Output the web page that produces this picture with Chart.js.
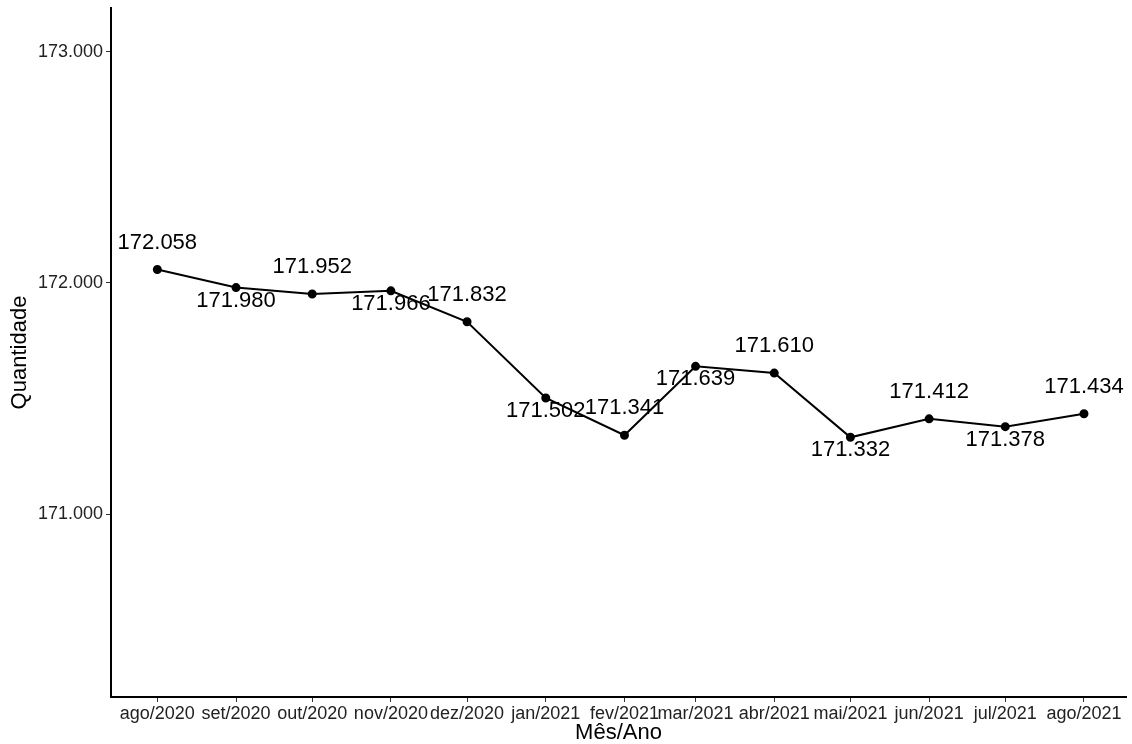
<!DOCTYPE html>
<html>
<head>
<meta charset="utf-8">
<script src="https://cdn.jsdelivr.net/npm/chart.js@4"></script>
<style>
  html, body { margin: 0; padding: 0; background: #fff; }
  #wrap { width: 1132px; height: 744px; }
</style>
</head>
<body>
<div id="wrap"><canvas id="chart" width="1132" height="744"></canvas></div>
<script>
// month labels and the first day of each month
const months = ['ago/2020', 'set/2020', 'out/2020', 'nov/2020', 'dez/2020', 'jan/2021', 'fev/2021',
  'mar/2021', 'abr/2021', 'mai/2021', 'jun/2021', 'jul/2021', 'ago/2021'];
const dates = ['2020-08-01', '2020-09-01', '2020-10-01', '2020-11-01', '2020-12-01', '2021-01-01', '2021-02-01',
  '2021-03-01', '2021-04-01', '2021-05-01', '2021-06-01', '2021-07-01', '2021-08-01'];
const quantidade = [172.058, 171.980, 171.952, 171.966, 171.832, 171.502, 171.341,
  171.639, 171.610, 171.332, 171.412, 171.378, 171.434];
const yTicks = [171, 172, 173];

// days since the first month, so the x axis keeps real month lengths
const start = Date.parse(dates[0]);
const days = dates.map(d => (Date.parse(d) - start) / 86400000);
const span = days[days.length - 1];

const fmt = v => v.toFixed(3);
const FONT = '"Liberation Sans", Arial, sans-serif';

const valueLabels = {
  id: 'valueLabels',
  afterDatasetsDraw(chart) {
    const ctx = chart.ctx;
    const meta = chart.getDatasetMeta(0);
    ctx.save();
    ctx.font = '22px ' + FONT;
    ctx.fillStyle = '#000';
    ctx.textAlign = 'center';
    ctx.textBaseline = 'middle';
    meta.data.forEach((pt, i) => {
      const dy = i % 2 === 0 ? -27 : 13;
      ctx.fillText(fmt(quantidade[i]), pt.x, pt.y + dy);
    });
    ctx.restore();
  }
};

const ctx = document.getElementById('chart').getContext('2d');
new Chart(ctx, {
  type: 'line',
  data: {
    datasets: [{
      label: 'Quantidade',
      data: days.map((d, i) => ({ x: d, y: quantidade[i] })),
      borderColor: '#000',
      backgroundColor: '#000',
      borderWidth: 2,
      pointRadius: 3.5,
      tension: 0
    }]
  },
  options: {
    responsive: false,
    animation: false,
    layout: { padding: { top: 8, right: 0, left: 0, bottom: 0 } },
    plugins: {
      legend: { display: false },
      tooltip: { enabled: false }
    },
    scales: {
      x: {
        type: 'linear',
        min: -span * 0.05,
        max: span + 16.55,
        afterBuildTicks: axis => { axis.ticks = days.map(v => ({ value: v })); },
        afterFit: axis => { axis.height = 47; },
        ticks: {
          autoSkip: false,
          maxRotation: 0,
          padding: 1,
          color: '#222',
          font: { family: FONT, size: 18 },
          callback: v => months[days.indexOf(v)]
        },
        grid: { drawOnChartArea: false, tickLength: 5, color: '#333' },
        border: { color: '#000', width: 2 },
        title: {
          display: true,
          text: 'Mês/Ano',
          color: '#000',
          padding: 0,
          font: { family: FONT, size: 22, lineHeight: 1 }
        }
      },
      y: {
        min: 170.208,
        max: 173.19,
        afterBuildTicks: axis => { axis.ticks = yTicks.map(v => ({ value: v })); },
        afterFit: axis => {
          axis.width = 111;
          axis.paddingTop = 0;
          axis.paddingBottom = 0;
        },
        ticks: {
          padding: 3,
          color: '#222',
          font: { family: FONT, size: 18 },
          callback: v => fmt(v)
        },
        grid: { drawOnChartArea: false, tickLength: 5, color: '#333' },
        border: { color: '#000', width: 2 },
        title: {
          display: true,
          text: 'Quantidade',
          color: '#000',
          padding: { top: 9, bottom: 0 },
          font: { family: FONT, size: 22, lineHeight: 1 }
        }
      }
    }
  },
  plugins: [valueLabels]
});
</script>
</body>
</html>
